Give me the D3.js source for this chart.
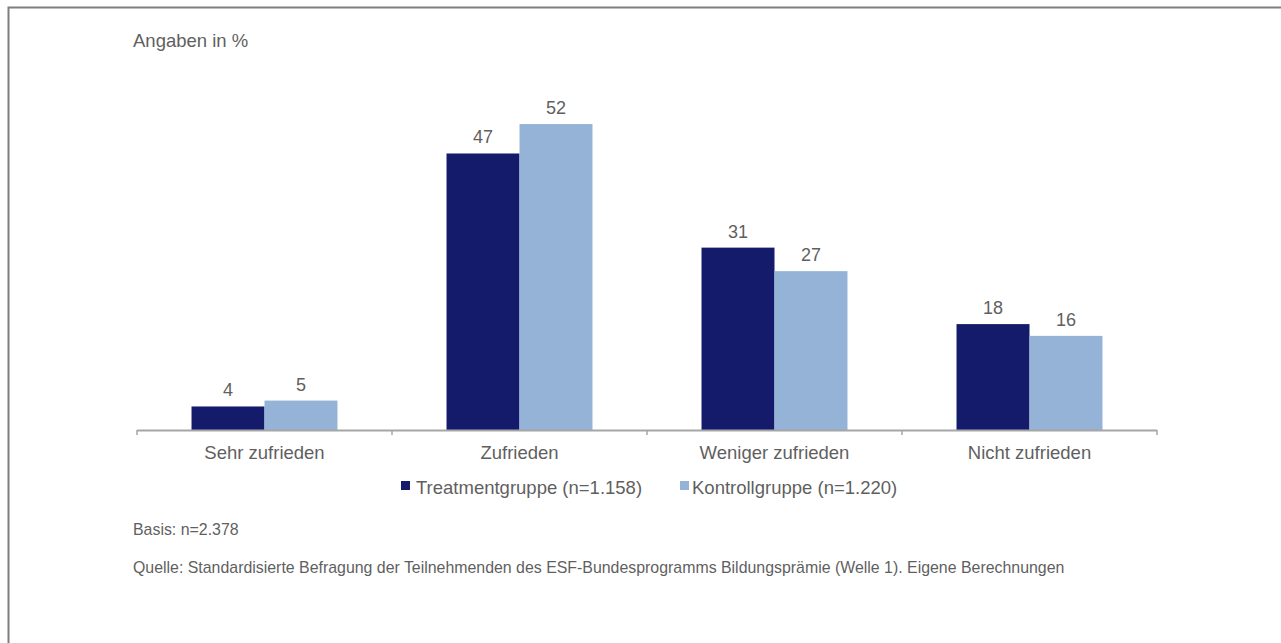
<!DOCTYPE html>
<html>
<head>
<meta charset="utf-8">
<script src="https://cdn.jsdelivr.net/npm/d3@7"></script>
<style>
  body { margin: 0; background: #fff; }
  text { font-family: "Liberation Sans", Arial, sans-serif; fill: #5f5f5f; }
</style>
</head>
<body>
<svg width="1281" height="643"></svg>
<script>
// Zufriedenheit, Angaben in %
var categories = ["Sehr zufrieden", "Zufrieden", "Weniger zufrieden", "Nicht zufrieden"];
var seriesNames = ["Treatmentgruppe (n=1.158)", "Kontrollgruppe (n=1.220)"];
var treatment = [4, 47, 31, 18];
var kontroll = [5, 52, 27, 16];
var colors = ["#141b6b", "#95b3d7"];

var svg = d3.select("svg");

// outer frame
svg.append("rect").attr("x", 8.5).attr("y", 7.5).attr("width", 1300).attr("height", 700)
  .attr("fill", "none").attr("stroke", "#7f7f7f").attr("stroke-width", 2);

var x0 = d3.scaleBand().domain(categories).range([137, 1157]).paddingInner(0).paddingOuter(0);
var x1 = d3.scaleBand().domain([0, 1]).range([0, x0.bandwidth()]).paddingInner(0).paddingOuter(0.747);
var y = d3.scaleLinear().domain([0, 60]).range([430, 77]);

var rows = categories.map(function(c, i) { return { cat: c, vals: [treatment[i], kontroll[i]] }; });

var groups = svg.append("g").selectAll("g").data(rows).enter().append("g")
  .attr("transform", function(d) { return "translate(" + x0(d.cat) + ",0)"; });

groups.selectAll("rect").data(function(d) { return d.vals; }).enter().append("rect")
  .attr("x", function(d, i) { return x1(i); })
  .attr("y", function(d) { return y(d); })
  .attr("width", x1.bandwidth())
  .attr("height", function(d) { return y(0) - y(d); })
  .attr("fill", function(d, i) { return colors[i]; });

groups.selectAll("text").data(function(d) { return d.vals; }).enter().append("text")
  .attr("x", function(d, i) { return x1(i) + x1.bandwidth() / 2; })
  .attr("y", function(d) { return y(d) - 10; })
  .attr("text-anchor", "middle")
  .attr("font-size", "18px")
  .text(function(d) { return d; });

// x axis with ticks at category boundaries
var axis = svg.append("g").attr("transform", "translate(0,430)");
axis.append("line").attr("x1", 137).attr("x2", 1157).attr("y1", 0.5).attr("y2", 0.5)
  .attr("stroke", "#a6a6a6").attr("stroke-width", 2);
var bounds = categories.map(function(c) { return x0(c); }).concat([x0.range()[1]]);
axis.selectAll("line.tick").data(bounds).enter().append("line").attr("class", "tick")
  .attr("x1", function(d) { return d; }).attr("x2", function(d) { return d; })
  .attr("y1", 0).attr("y2", 5).attr("stroke", "#a6a6a6").attr("stroke-width", 1.5);
axis.selectAll("text").data(categories).enter().append("text")
  .attr("x", function(d) { return x0(d) + x0.bandwidth() / 2; })
  .attr("y", 29)
  .attr("text-anchor", "middle")
  .attr("font-size", "18.5px")
  .text(function(d) { return d; });

svg.append("text").attr("x", 133).attr("y", 47).attr("font-size", "18.5px").text("Angaben in %");

// legend
var legendX = [401, 680];
var legendTextX = [15, 12];
var legend = svg.append("g").selectAll("g").data(seriesNames).enter().append("g")
  .attr("transform", function(d, i) { return "translate(" + legendX[i] + ",481)"; });
legend.append("rect").attr("width", 9).attr("height", 9)
  .attr("fill", function(d, i) { return colors[i]; });
legend.append("text").attr("x", function(d, i) { return legendTextX[i]; }).attr("y", 13)
  .attr("font-size", "18.5px")
  .text(function(d) { return d; });

svg.append("text").attr("x", 133).attr("y", 535).attr("font-size", "15.9px").text("Basis: n=2.378");
svg.append("text").attr("x", 133).attr("y", 573).attr("font-size", "15.9px")
  .text("Quelle: Standardisierte Befragung der Teilnehmenden des ESF-Bundesprogramms Bildungsprämie (Welle 1). Eigene Berechnungen");
</script>
</body>
</html>
